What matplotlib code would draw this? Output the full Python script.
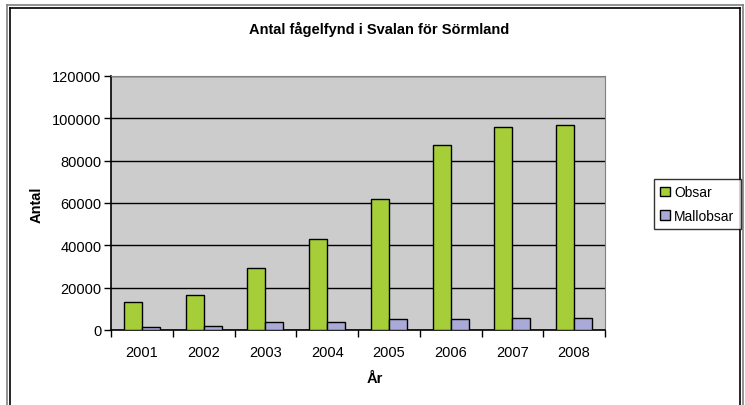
import matplotlib
matplotlib.use("Agg")
import matplotlib.pyplot as plt
import numpy as np
from matplotlib.lines import Line2D

years = ["2001", "2002", "2003", "2004", "2005", "2006", "2007", "2008"]
obsar = [13000, 16500, 29500, 43000, 62000, 87500, 95700, 97000]
mallobsar = [1300, 1900, 3900, 3900, 5200, 5200, 5800, 5900]

plt.rcParams['font.family'] = ['Liberation Sans', 'DejaVu Sans']

W, H = 745, 406
fig = plt.figure(figsize=(W / 100, H / 100), dpi=100)
fig.patch.set_facecolor("white")

# outer frame (double line)
for (x0, y0, x1, c, lw) in [(7, 6, 743, "#808080", 1.2), (10, 9, 740, "black", 1.2)]:
    fig.add_artist(Line2D([x0 / W, x0 / W], [0, 1 - y0 / H], color=c, lw=lw, transform=fig.transFigure))
    fig.add_artist(Line2D([x1 / W, x1 / W], [0, 1 - y0 / H], color=c, lw=lw, transform=fig.transFigure))
    fig.add_artist(Line2D([x0 / W, x1 / W], [1 - y0 / H, 1 - y0 / H], color=c, lw=lw, transform=fig.transFigure))

left, right, top, bottom = 111, 605, 77, 331
ax = fig.add_axes([left / W, 1 - bottom / H, (right - left) / W, (bottom - top) / H])
ax.set_facecolor("#CCCCCC")

x = np.arange(len(years))
bw = 0.29
ax.bar(x - bw / 2, obsar, bw, color="#A6CE39", edgecolor="black", linewidth=1.0, label="Obsar", zorder=3)
ax.bar(x + bw / 2, mallobsar, bw, color="#AAAAD8", edgecolor="black", linewidth=1.0, label="Mallobsar", zorder=3)

ax.set_xlim(-0.5, len(years) - 0.5)
ax.set_ylim(0, 120000)
ax.set_yticks(np.arange(0, 120001, 20000))
ax.yaxis.grid(True, color="black", linewidth=1.0, zorder=1)
ax.set_axisbelow(True)

ax.set_xticks(np.arange(-0.5, len(years), 1.0))
ax.set_xticklabels([])
ax.set_xticks(x, minor=True)
ax.set_xticklabels(years, minor=True)
ax.tick_params(axis="x", which="minor", length=0, pad=11, labelsize=10.5)
ax.tick_params(axis="x", which="major", length=5, width=1, direction="out")
ax.tick_params(axis="y", length=5, width=1, direction="out", labelsize=10.5, pad=2)

for s in ["top", "right"]:
    ax.spines[s].set_color("#808080")
    ax.spines[s].set_linewidth(0.8)
for s in ["left", "bottom"]:
    ax.spines[s].set_color("black")
    ax.spines[s].set_linewidth(1.2)

fig.text(379 / W, 1 - 29 / H, "Antal fågelfynd i Svalan för Sörmland", ha="center", va="center",
         fontsize=10.5, fontweight="bold")
fig.text(37 / W, 1 - 205 / H, "Antal", ha="center", va="center", rotation=90, fontsize=10.5, fontweight="bold")
fig.text(375 / W, 1 - 379 / H, "År", ha="center", va="center", fontsize=10.5, fontweight="bold")

leg = fig.legend(loc="upper left", bbox_to_anchor=(654 / W, 1 - 180 / H), frameon=True, fancybox=False,
                 fontsize=10, handlelength=0.7, handleheight=0.7, handletextpad=0.3, borderpad=0.45,
                 labelspacing=0.7, borderaxespad=0)
leg.get_frame().set_edgecolor("black")
leg.get_frame().set_linewidth(1.0)

fig.savefig("out.png", dpi=100)
